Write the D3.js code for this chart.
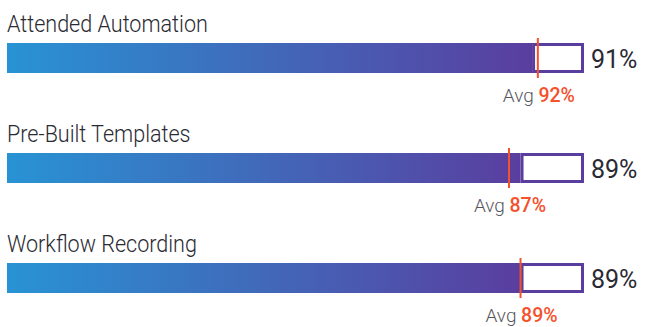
<!DOCTYPE html>
<html>
<head>
<meta charset="utf-8">
<script src="https://cdn.jsdelivr.net/npm/d3@7"></script>
<style>
  html, body { margin: 0; padding: 0; background: #ffffff; }
  svg { display: block; }
  text { font-family: Roboto, "Noto Sans", sans-serif; }
</style>
</head>
<body>
<svg id="chart" width="645" height="327"></svg>
<script>
// Feature adoption scores with the peer average for each
const categories = ["Attended Automation", "Pre-Built Templates", "Workflow Recording"];
const scores = [91, 89, 89];
const averages = [92, 87, 89];

const width = 645, height = 327;
const svg = d3.select("#chart");

const x = d3.scaleLinear().domain([0, 100]).range([7, 584]);
const row = d3.scaleBand().domain(categories).range([0, 330]);

const barTop = 43, barH = 30, stroke = 3;

// Horizontal gradient used by each filled bar
const defs = svg.append("defs");
const grad = defs.append("linearGradient")
  .attr("id", "barGrad")
  .attr("x1", "0%").attr("x2", "100%").attr("y1", "0%").attr("y2", "0%");
grad.append("stop").attr("offset", "0%").attr("stop-color", "#2893d4");
grad.append("stop").attr("offset", "100%").attr("stop-color", "#5a3e9f");

const data = categories.map((c, i) => ({ name: c, value: scores[i], avg: averages[i] }));

const g = svg.selectAll("g.row")
  .data(data)
  .join("g")
  .attr("class", "row")
  .attr("transform", d => `translate(0,${row(d.name)})`);

// Category title
g.append("text")
  .attr("x", 7)
  .attr("y", 32)
  .attr("font-size", 24.5)
  .attr("font-weight", 300)
  .attr("fill", "#2a2a33")
  .attr("transform", "translate(7,0) scale(0.88,1) translate(-7,0)")
  .text(d => d.name);

// Remaining share up to 100%
g.append("rect")
  .attr("x", d => x(d.value) + stroke / 2)
  .attr("y", barTop + stroke / 2)
  .attr("width", d => x(100) - x(d.value) - stroke)
  .attr("height", barH - stroke)
  .attr("fill", "#ffffff")
  .attr("stroke", "#5a3e9f")
  .attr("stroke-width", stroke);

// Score bar
g.append("rect")
  .attr("x", x(0))
  .attr("y", barTop)
  .attr("width", d => x(d.value) - x(0))
  .attr("height", barH)
  .attr("fill", "url(#barGrad)");

// Average marker
g.append("line")
  .attr("x1", d => x(d.avg))
  .attr("x2", d => x(d.avg))
  .attr("y1", barTop - 5)
  .attr("y2", barTop + barH + 5)
  .attr("stroke", "#f4512c")
  .attr("stroke-width", 2);

// Score value
g.append("text")
  .attr("x", x(100) + 7)
  .attr("y", barTop + 25)
  .attr("font-size", 25)
  .attr("fill", "#2a2a33")
  .text(d => d.value + "%");

// Average label centred under the marker
const avgLabel = g.append("text")
  .attr("x", d => x(d.avg) + 1)
  .attr("y", 102)
  .attr("font-size", 19)
  .attr("text-anchor", "middle");
avgLabel.append("tspan")
  .attr("fill", "#55565c")
  .attr("font-weight", 300)
  .text("Avg ");
avgLabel.append("tspan")
  .attr("fill", "#f4512c")
  .attr("font-weight", 500)
  .attr("font-size", 19.5)
  .text(d => d.avg + "%");
</script>
</body>
</html>
